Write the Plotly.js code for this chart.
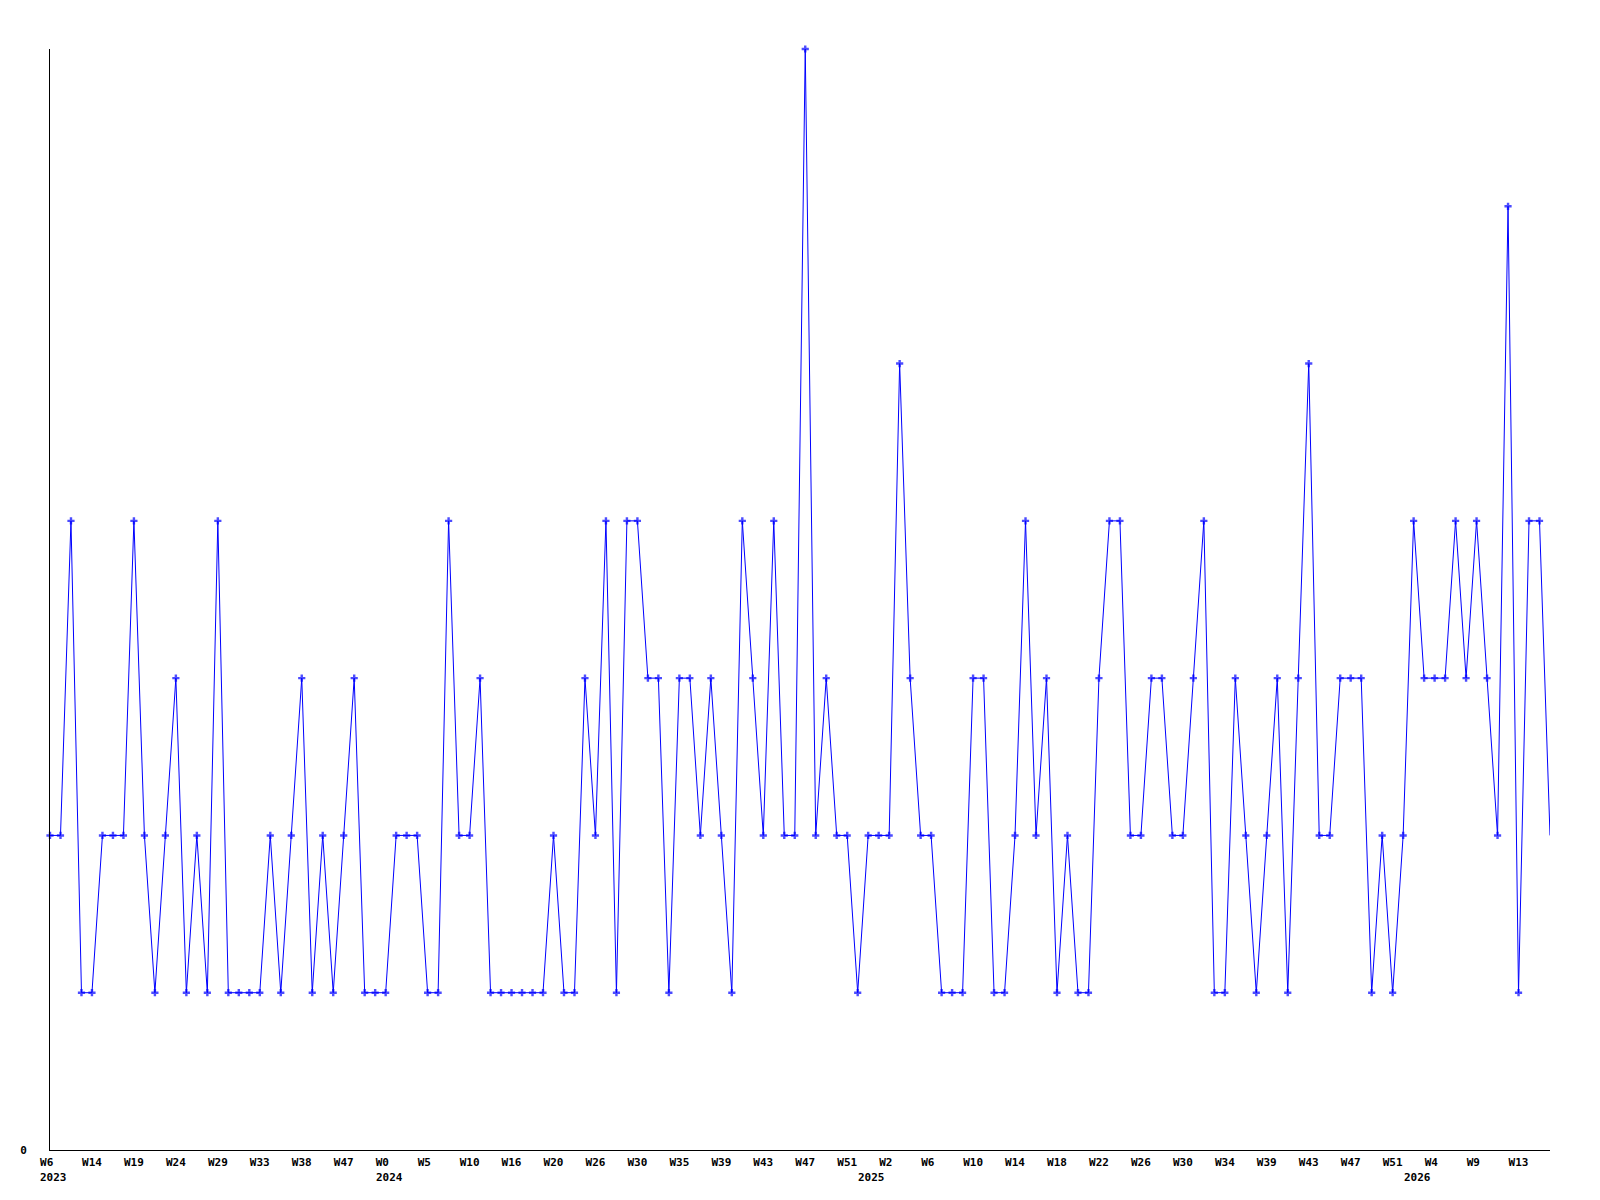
<!DOCTYPE html>
<html>
<head>
<meta charset="utf-8">
<script src="https://cdn.plot.ly/plotly-3.0.1.min.js"></script>
<style>html,body{margin:0;padding:0;background:#fff;}#chart{width:1600px;height:1200px;}</style>
</head>
<body>
<div id="chart"></div>
<script>
// Series values, one per period (x is the period index)
const values = [
  2,2,4,1,1,2,2,2,4,2,1,2,3,1,2,1,4,1,1,
  1,1,2,1,2,3,1,2,1,2,3,1,1,1,2,2,2,1,
  1,4,2,2,3,1,1,1,1,1,1,2,1,1,3,2,4,1,
  4,4,3,3,1,3,3,2,3,2,1,4,3,2,4,2,2,7,
  2,3,2,2,1,2,2,2,5,3,2,2,1,1,1,3,3,1,
  1,2,4,2,3,1,2,1,1,3,4,4,2,2,3,3,2,2,
  3,4,1,1,3,2,1,2,3,1,3,5,2,2,3,3,3,1,
  2,1,2,4,3,3,3,4,3,4,3,2,6,1,4,4,2
];
// Tick labels, one every 4 periods
const tickLabels = ["W6","W14","W19","W24","W29","W33","W38","W47","W0","W5",
  "W10","W16","W20","W26","W30","W35","W39","W43","W47","W51",
  "W2","W6","W10","W14","W18","W22","W26","W30","W34","W39",
  "W43","W47","W51","W4","W9","W13"];
const tickStep = 4;
// Year labels and the period index where each year starts
const years = ["2023","2024","2025","2026"];
const yearStart = [0, 32, 78, 130];

const xIdx = values.map((v, i) => i);
const tickVals = tickLabels.map((t, i) => i * tickStep);
const tickText = tickLabels.map(t => t.length < 3 ? t + "\u00A0" : t);
const font = {family: "DejaVu Sans Mono, monospace", size: 11, color: "#000", weight: "bold"};

const trace = {
  x: xIdx, y: values, type: "scatter", mode: "lines+markers",
  line: {color: "#0000ff", width: 1},
  marker: {symbol: "cross", size: values.map((v, i) => i === values.length - 1 ? 0 : 6), color: "#0000ff", line: {width: 0}},
  cliponaxis: false, hoverinfo: "none"
};

const layout = {
  width: 1600, height: 1200,
  margin: {l: 50, r: 50, t: 49, b: 50, pad: 0},
  paper_bgcolor: "#fff", plot_bgcolor: "#fff",
  showlegend: false,
  xaxis: {
    range: [0, values.length - 1], showgrid: false, zeroline: false,
    showline: true, linecolor: "#000", linewidth: 1,
    tickmode: "array", tickvals: tickVals, ticktext: tickText,
    ticks: "", ticklabelstandoff: 2, tickangle: 0, tickfont: font
  },
  yaxis: {
    range: [0, 7], showgrid: false, zeroline: false,
    showline: true, linecolor: "#000", linewidth: 1,
    tickmode: "array", tickvals: [0], ticktext: ["0"],
    ticks: "", ticklabelstandoff: 20, tickfont: font
  },
  annotations: years.map((y, i) => ({
    x: yearStart[i], xref: "x", y: 0, yref: "paper",
    xanchor: "left", yanchor: "middle", xshift: -12, yshift: -27,
    text: y, showarrow: false, font: font
  }))
};

Plotly.newPlot("chart", [trace], layout, {staticPlot: true});
</script>
</body>
</html>
